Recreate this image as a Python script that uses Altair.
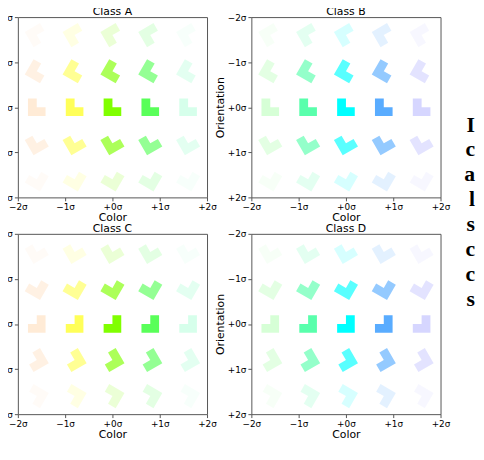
import altair as alt
import pandas as pd

# ---- data ----
cell_centers = [-1.6, -0.8, 0.0, 0.8, 1.6]          # grid cell centres (same on both axes)
row_angles = [60, 30, 0, 330, 300]                   # rotation of the shape per orientation row (top -> bottom)
alpha = [
    [0.03, 0.11, 0.16, 0.11, 0.03],
    [0.11, 0.42, 0.65, 0.42, 0.11],
    [0.16, 0.65, 1.00, 0.65, 0.16],
    [0.11, 0.42, 0.65, 0.42, 0.11],
    [0.03, 0.11, 0.16, 0.11, 0.03],
]
hues_AC = ["#ff8000", "#ffff00", "#80ff00", "#00ff00", "#00ff80"]
hues_BD = ["#00ff00", "#00ff80", "#00ffff", "#0080ff", "#0000ff"]
class_names = ["Class A", "Class B", "Class C", "Class D"]
class_hues = [hues_AC, hues_BD, hues_AC, hues_BD]
class_mirrored = [False, False, True, True]

tick_values = [-2, -1, 0, 1, 2]
tick_labels = ["−2σ", "−1σ", "+0σ", "+1σ", "+2σ"]

# fragments of the neighbouring page text (cut at the picture edge), in panel-B data units
side_x = 2.73
side_letters = ["I", "c", "a", "l", "s", "c", "c", "s"]
side_y = [0.54, 1.08, 1.63, 2.20, 2.74, 3.31, 3.86, 4.40]

L_PATH = "M -1 -1 L 0 -1 L 0 0 L 1 0 L 1 1 L -1 1 Z"
J_PATH = "M 0 -1 L 1 -1 L 1 1 L -1 1 L -1 0 L 0 0 Z"

label_expr = " : ".join(
    f"datum.value == {v} ? '{t}'" for v, t in zip(tick_values, tick_labels)
) + " : ''"

FONT = "DejaVu Sans"
PANEL_W = 192
TOP_H = 183
BOT_H = 183


def panel(k, height, show_ytitle, letters=None, letters_y=None):
    rows = []
    for r, yv in enumerate(cell_centers):
        for c, xv in enumerate(cell_centers):
            rows.append({
                "x": xv, "y": yv,
                "color": class_hues[k][c],
                "alpha": alpha[r][c],
                "angle": row_angles[r],
            })
    df = pd.DataFrame(rows)

    xenc = alt.X(
        "x:Q",
        scale=alt.Scale(domain=[-2, 2], nice=False, zero=False),
        axis=alt.Axis(values=tick_values, labelExpr=label_expr, title="Color",
                      grid=False, domain=False, labelFlush=False, labelOverlap=False,
                      tickSize=3.5, labelPadding=2, titlePadding=0),
    )
    yaxis_kwargs = dict(values=tick_values, labelExpr=label_expr, grid=False, domain=False,
                        labelFlush=False, labelOverlap=False, tickSize=3.5, labelPadding=2,
                        titlePadding=2)
    if show_ytitle:
        yaxis_kwargs["title"] = "Orientation"
    else:
        yaxis_kwargs["title"] = None
    yenc = alt.Y(
        "y:Q",
        scale=alt.Scale(domain=[-2, 2], nice=False, zero=False, reverse=True),
        axis=alt.Axis(**yaxis_kwargs),
    )

    shapes = alt.Chart(df).mark_point(
        filled=True,
        shape=J_PATH if class_mirrored[k] else L_PATH,
        size=320,
        strokeWidth=0,
    ).encode(
        x=xenc,
        y=yenc,
        fill=alt.Fill("color:N", scale=None),
        opacity=alt.Opacity("alpha:Q", scale=None),
        angle=alt.Angle("angle:Q", scale=None),
    )

    layers = [shapes]
    if letters is not None:
        tdf = pd.DataFrame({"x": [side_x] * len(letters), "y": letters_y, "t": letters})
        txt = alt.Chart(tdf).mark_text(
            align="right", baseline="alphabetic", font="Liberation Serif",
            fontSize=22, fontWeight="bold", color="black",
        ).encode(x="x:Q", y="y:Q", text="t:N")
        layers.append(txt)

    return alt.layer(*layers).properties(
        width=PANEL_W,
        height=height,
        title=alt.TitleParams(class_names[k], font=FONT, fontSize=11, fontWeight="normal",
                              color="black", anchor="middle", offset=-13, baseline="alphabetic",
                              frame="group"),
    )


A = panel(0, TOP_H, False)
B = panel(1, TOP_H, True, side_letters, side_y)
C = panel(2, BOT_H, False)
D = panel(3, BOT_H, True)

chart = alt.concat(
    A, B, C, D,
    columns=2,
    spacing=alt.RowColnumber(row=37, column=45),
    bounds="flush",
    align="each",
).properties(
    padding={"left": -15, "top": -6, "right": 0, "bottom": -4},
).configure_view(
    stroke="#555555", strokeWidth=1,
).configure_axis(
    labelFont=FONT, labelFontSize=9, labelColor="black",
    titleFont=FONT, titleFontSize=11, titleFontWeight="normal", titleColor="black",
    tickColor="#555555", tickWidth=1,
)

chart.save("out.html", embed_options={"renderer": "svg", "actions": False})
